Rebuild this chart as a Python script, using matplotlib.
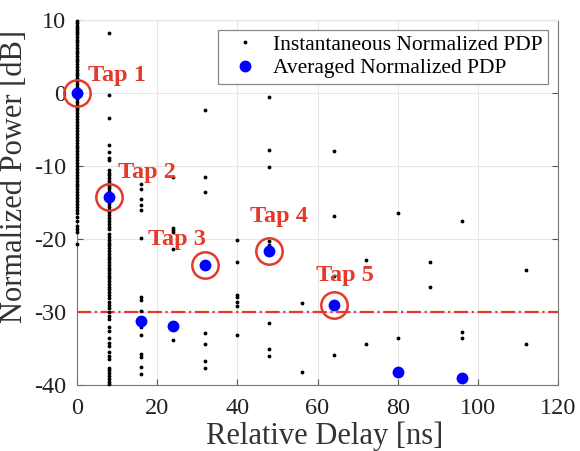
import numpy as np
import matplotlib
matplotlib.use('Agg')
import matplotlib.pyplot as plt

plt.rcParams['font.family'] = ['Liberation Serif', 'DejaVu Serif']
plt.rcParams['axes.unicode_minus'] = False

# Instantaneous normalized PDP: delay [ns] -> list of powers [dB]
inst_delay_0 = [9.8, 9.5, 9.2, 8.9, 8.6, 8.3, 8.0, 7.6, 7.3, 6.9, 6.5, 6.2, 5.8, 5.4, 5.0,
                4.6, 4.3, 3.9, 3.5, 3.1, 2.7, 2.4, 2.0, 1.6, 1.2, 0.8, 0.4, 0.0, -0.4, -0.8,
                -1.2, -1.6, -2.0, -2.4, -2.8, -3.2, -3.6, -4.0, -4.4, -4.8, -5.2, -5.6, -6.0,
                -6.4, -6.8, -7.2, -7.6, -8.0, -8.4, -8.8, -9.2, -9.6, -10.0, -10.4, -10.8,
                -11.2, -11.6, -12.0, -12.4, -12.8, -13.2, -13.6, -14.0, -14.4, -14.8, -15.2,
                -15.6, -16.0, -16.5, -17.0, -17.5, -18.2, -18.6, -19.0, -20.7]
inst_delay_8 = [8.2, -0.3, -3.5, -7.1, -8.1, -8.9, -9.2, -10.6, -10.9, -11.3, -11.6, -12.0,
                -12.3, -12.7, -13.0, -13.4, -13.8, -14.1, -14.5, -14.9, -15.2, -15.6, -16.0,
                -16.3, -16.7, -17.1, -17.5, -17.9, -18.3, -18.6, -19.3, -19.7, -20.1, -20.5,
                -20.8, -21.2, -21.6, -22.0, -22.4, -22.7, -23.1, -23.5, -23.9, -24.2, -24.6,
                -25.0, -25.4, -25.8, -26.2, -26.5, -26.9, -27.3, -27.7, -28.1, -28.6, -29.0,
                -29.5, -30.0, -30.6, -31.0, -32.0, -32.6, -33.6, -34.2, -34.6, -35.5, -36.0,
                -36.4, -37.6, -37.9, -38.4, -38.8, -39.2, -39.6, -39.9]
inst_delay_16 = [-12.4, -13.1, -14.5, -15.3, -16.0, -19.9, -28.0, -28.3, -29.9, -32.1, -33.1,
                 -35.8, -36.2, -37.5, -38.5]
inst_delay_24 = [-11.5, -18.5, -18.8, -19.0, -21.4, -33.8]
inst_delay_32 = [-2.4, -11.5, -13.5, -32.8, -34.4, -36.7, -37.6]
inst_delay_40 = [-20.2, -23.1, -27.6, -28.0, -28.6, -29.1, -33.2]
inst_delay_48 = [-0.5, -7.8, -10.2, -20.3, -20.8, -31.5, -35.0, -36.0]
inst_delay_56 = [-28.8, -38.2]
inst_delay_64 = [-7.9, -16.9, -25.1, -35.9]
inst_delay_72 = [-22.9, -34.4]
inst_delay_80 = [-16.5, -33.6]
inst_delay_88 = [-23.2, -26.6]
inst_delay_96 = [-17.5, -32.7, -33.6]
inst_delay_112 = [-24.3, -34.4]

inst_groups = {0: inst_delay_0, 8: inst_delay_8, 16: inst_delay_16, 24: inst_delay_24,
               32: inst_delay_32, 40: inst_delay_40, 48: inst_delay_48, 56: inst_delay_56,
               64: inst_delay_64, 72: inst_delay_72, 80: inst_delay_80, 88: inst_delay_88,
               96: inst_delay_96, 112: inst_delay_112}

# Averaged normalized PDP
avg_delay = [0, 8, 16, 24, 32, 48, 64, 80, 96]
avg_power = [0.0, -14.3, -31.2, -31.9, -23.6, -21.6, -29.0, -38.2, -39.0]

# Selected taps
tap_names = ['Tap 1', 'Tap 2', 'Tap 3', 'Tap 4', 'Tap 5']
tap_delay = [0, 8, 32, 48, 64]
tap_power = [0.0, -14.3, -23.6, -21.6, -29.0]
tap_label_x = [2.8, 10.2, 17.8, 43.2, 59.5]
tap_label_y = [2.4, -10.9, -20.1, -16.9, -25.0]

threshold = -30

red = '#e5392b'

inst_x = np.concatenate([[d] * len(v) for d, v in inst_groups.items()])
inst_y = np.concatenate([v for v in inst_groups.values()])

fig = plt.figure(figsize=(5.8, 4.51), dpi=100)
ax = fig.add_axes([0.133, 0.146, 0.829, 0.81])

ax.plot(inst_x, inst_y, '.', color='black', markersize=3.5,
        label='Instantaneous Normalized PDP', zorder=3, clip_on=False)
ax.plot(avg_delay, avg_power, 'o', color='#0000ff', markersize=7.5,
        label='Averaged Normalized PDP', zorder=4, clip_on=False)
ax.plot(tap_delay, tap_power, 'o', markerfacecolor='none', markeredgecolor=red,
        markersize=19, markeredgewidth=1.8, zorder=5, clip_on=False)
for name, tx, ty in zip(tap_names, tap_label_x, tap_label_y):
    ax.text(tx, ty, name, color=red, fontsize=17.5, fontweight='bold',
            ha='left', va='center', zorder=6)

ax.axhline(threshold, color=red, linestyle='-.', linewidth=1.6, zorder=2)

ax.set_xlim(0, 120)
ax.set_ylim(-40, 10)
ax.set_xticks(np.arange(0, 121, 20))
ax.set_yticks(np.arange(-40, 11, 10))
ax.grid(True, color='#e6e6e6', linewidth=0.8)
ax.set_axisbelow(True)
ax.tick_params(direction='in', labelsize=17.5, color='#555555', length=4,
               top=False, right=True, labelcolor='#222222')
ax.tick_params(axis='x', pad=9)
ax.tick_params(axis='y', pad=8)
for s in ['left', 'bottom', 'right']:
    ax.spines[s].set_color('#777777')
ax.spines['top'].set_color('#e6e6e6')

ax.set_xlabel('Relative Delay [ns]', fontsize=22, color='#333333', va='center')
ax.set_ylabel('Normalized Power [dB]', fontsize=22, color='#333333', va='center')
ax.xaxis.set_label_coords(0.515, -0.141)
ax.yaxis.set_label_coords(-0.13, 0.57)

leg = ax.legend(loc='upper right', fontsize=15.5, framealpha=1, fancybox=False,
                edgecolor='#888888', handletextpad=0.3, borderaxespad=0.45,
                labelspacing=0.15, borderpad=0.25)
leg.get_frame().set_linewidth(0.9)

fig.savefig('out.png', dpi=100)
